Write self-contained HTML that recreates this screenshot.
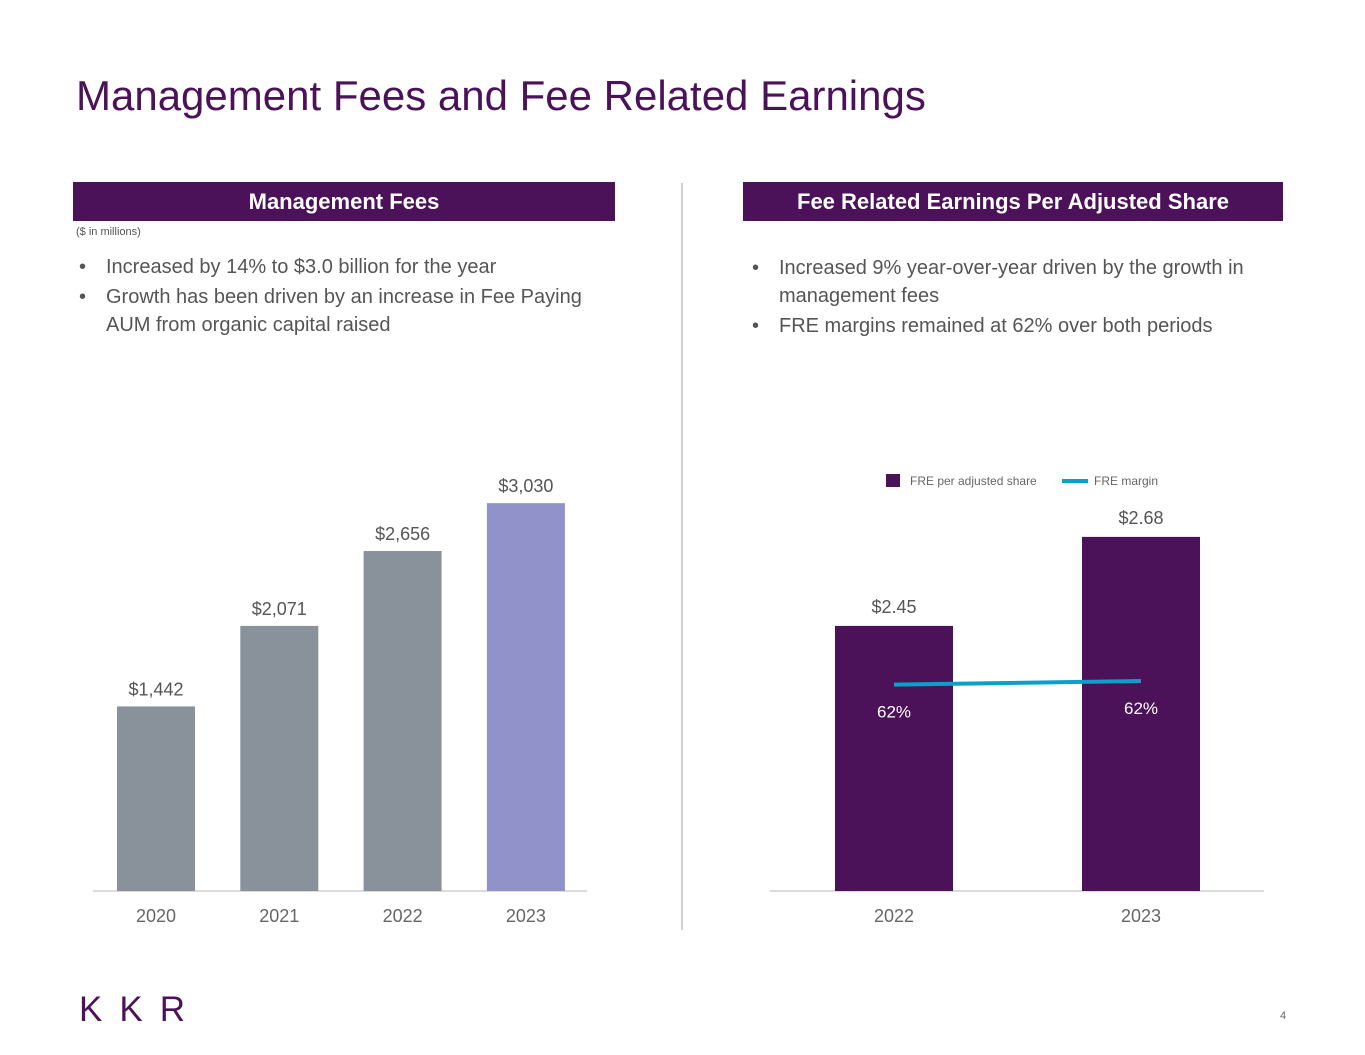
<!DOCTYPE html>
<html><head><meta charset="utf-8"><style>
body{margin:0;width:1365px;height:1055px;background:#fff;font-family:"Liberation Sans",sans-serif;position:relative;overflow:hidden}
.abs{position:absolute}
.title{left:76px;top:72px;font-size:42px;color:#4b1259;white-space:nowrap}
.hdr{background:#4b1259;color:#fff;font-weight:bold;font-size:22px;text-align:center;line-height:39px;height:39px}
.bul{font-size:20px;color:#555;line-height:28px}
.bul div{position:relative;padding-left:27px}
.bul div:before{content:"•";position:absolute;left:0}
</style></head><body>
<div class="abs title">Management Fees and Fee Related Earnings</div>
<div class="abs hdr" style="left:73px;top:182px;width:542px">Management Fees</div>
<div class="abs hdr" style="left:743px;top:182px;width:540px">Fee Related Earnings Per Adjusted Share</div>
<div class="abs" style="left:76px;top:226px;font-size:11px;color:#555">($ in millions)</div>
<div class="abs bul" style="left:79px;top:253px;width:530px">
<div>Increased by 14% to $3.0 billion for the year</div>
<div style="margin-top:2px">Growth has been driven by an increase in Fee Paying AUM from organic capital raised</div>
</div>
<div class="abs bul" style="left:752px;top:254px;width:530px">
<div>Increased 9% year-over-year driven by the growth in management fees</div>
<div style="margin-top:2px">FRE margins remained at 62% over both periods</div>
</div>
<div class="abs" style="left:681px;top:183px;width:2px;height:747px;background:#d0d0d0"></div>
<div class="abs" style="left:79px;top:990px;font-size:35px;letter-spacing:17px;color:#4b1259;font-weight:300">KKR</div>
<div class="abs" style="left:1280px;top:1010px;font-size:11px;color:#666">4</div>
<svg class="abs" style="left:0;top:0" width="1365" height="1055" id="svg"></svg>
<script>
const mgmtYears=["2020","2021","2022","2023"];
const mgmtFees=[1442,2071,2656,3030];
const mgmtLabels=["$1,442","$2,071","$2,656","$3,030"];
const freYears=["2022","2023"];
const freValues=[2.45,2.68];
const freLabels=["$2.45","$2.68"];
const freMargin=[61.5,62.6];
const freMarginLabels=["62%","62%"];
const NS="http://www.w3.org/2000/svg";
const svg=document.getElementById('svg');
function mk(t,a,txt){const e=document.createElementNS(NS,t);for(const k in a)e.setAttribute(k,a[k]);if(txt!==undefined)e.textContent=txt;svg.appendChild(e);return e;}
const base=891;
const lx=i=>156+i*123.3, ly=v=>base-v*0.128;
let e=mk('line',{x1:93,x2:587,y1:base,y2:base,stroke:'#cfcfcf','stroke-width':1.5});

mgmtFees.forEach((v,i)=>{
 let r=mk('rect',{x:lx(i)-39,y:ly(v),width:78,height:base-ly(v),fill:i==3?'#9192c9':'#89929a'});
 
 let t=mk('text',{x:lx(i),y:ly(v)-11,'text-anchor':'middle','font-size':18,fill:'#555'},mgmtLabels[i]);
 
 let c=mk('text',{x:lx(i),y:922,'text-anchor':'middle','font-size':18,fill:'#666'},mgmtYears[i]);
 
});
const rx=i=>894+i*247, ry=v=>base-(v-1.765)*387, my=m=>base-m*3.355;
e=mk('line',{x1:770,x2:1264,y1:base,y2:base,stroke:'#cfcfcf','stroke-width':1.5});

freValues.forEach((v,i)=>{
 let r=mk('rect',{x:rx(i)-59,y:ry(v),width:118,height:base-ry(v),fill:'#4b1259'});
 
 let t=mk('text',{x:rx(i),y:ry(v)-13,'text-anchor':'middle','font-size':18,fill:'#555'},freLabels[i]);
 
 let c=mk('text',{x:rx(i),y:922,'text-anchor':'middle','font-size':18,fill:'#666'},freYears[i]);
 
});
let pts=freMargin.map((m,i)=>rx(i)+','+my(m)).join(' ');
e=mk('polyline',{points:pts,fill:'none',stroke:'#0aa0c8','stroke-width':4});

freMargin.forEach((m,i)=>{
 let t=mk('text',{x:rx(i),y:my(m)+33,'text-anchor':'middle','font-size':17,fill:'#fff'},freMarginLabels[i]);
 
});
e=mk('rect',{x:886,y:474,width:14,height:13,fill:'#4b1259'});

e=mk('text',{x:910,y:485,'font-size':12,fill:'#666'},'FRE per adjusted share');

e=mk('line',{x1:1062,x2:1088,y1:481,y2:481,stroke:'#0aa0c8','stroke-width':4});

e=mk('text',{x:1094,y:485,'font-size':12,fill:'#666'},'FRE margin');

</script>
</body></html>
